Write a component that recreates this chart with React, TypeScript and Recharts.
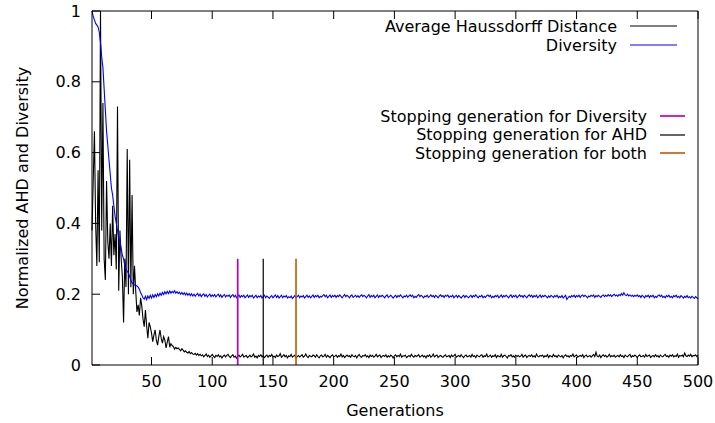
import { Line, LineChart, ReferenceLine, XAxis, YAxis } from "recharts";

const W = 715;
const H = 423;
const FONT = "'DejaVu Sans', sans-serif";
const FS = 16;
const BLUE = "#0000ff";

// Average Haussdorff Distance, generations 1..500 (normalized)
const ahd = [
  0.38, 0.52, 0.66, 0.40, 0.28, 0.55, 0.29, 1.0, 0.38, 0.74,
  0.30, 0.24, 0.52, 0.35, 0.30, 0.40, 0.28, 0.45, 0.31, 0.37,
  0.27, 0.73, 0.21, 0.38, 0.30, 0.25, 0.12, 0.30, 0.22, 0.61,
  0.20, 0.58, 0.22, 0.48, 0.20, 0.28, 0.21, 0.15, 0.17, 0.14,
  0.19, 0.167, 0.13, 0.108, 0.155, 0.11, 0.076, 0.12, 0.108, 0.09,
  0.066, 0.085, 0.099, 0.07, 0.056, 0.08, 0.099, 0.075, 0.062, 0.08,
  0.07, 0.048, 0.065, 0.08, 0.05, 0.06, 0.055, 0.052, 0.045, 0.05,
  0.046, 0.048, 0.044, 0.04, 0.046, 0.042, 0.037, 0.04, 0.036, 0.034,
  0.038, 0.032, 0.035, 0.031, 0.03, 0.033, 0.028, 0.032, 0.027, 0.03,
  0.026, 0.029, 0.023, 0.027, 0.031, 0.024, 0.028, 0.022, 0.026, 0.030, 0.025, 0.021, 0.027, 0.024, 0.029, 0.023, 0.026, 0.020, 0.025, 0.028,
  0.023, 0.027, 0.030, 0.024, 0.021, 0.026, 0.029, 0.022, 0.025, 0.019, 0.024, 0.028, 0.023, 0.026, 0.030, 0.022, 0.025, 0.027, 0.021, 0.024,
  0.028, 0.023, 0.026, 0.031, 0.022, 0.025, 0.020, 0.027, 0.024, 0.029, 0.023, 0.026, 0.021, 0.025, 0.028, 0.022, 0.027, 0.024, 0.030, 0.023,
  0.025, 0.021, 0.028, 0.024, 0.026, 0.032, 0.022, 0.025, 0.029, 0.023, 0.027, 0.020, 0.026, 0.024, 0.030, 0.022, 0.025, 0.028, 0.019, 0.024,
  0.027, 0.023, 0.026, 0.029, 0.022, 0.025, 0.031, 0.024, 0.021, 0.027, 0.025, 0.023, 0.028, 0.026, 0.022, 0.029, 0.024, 0.020, 0.026, 0.028,
  0.023, 0.025, 0.030, 0.022, 0.027, 0.024, 0.021, 0.026, 0.029, 0.023, 0.025, 0.028, 0.022, 0.026, 0.024, 0.031, 0.023, 0.027, 0.021, 0.025,
  0.028, 0.024, 0.026, 0.022, 0.029, 0.025, 0.023, 0.027, 0.020, 0.026, 0.030, 0.024, 0.022, 0.027, 0.025, 0.029, 0.023, 0.026, 0.021, 0.028,
  0.024, 0.027, 0.022, 0.025, 0.030, 0.023, 0.026, 0.028, 0.021, 0.025, 0.027, 0.024, 0.029, 0.022, 0.026, 0.023, 0.028, 0.025, 0.020, 0.026,
  0.029, 0.023, 0.027, 0.024, 0.031, 0.022, 0.026, 0.025, 0.028, 0.021, 0.024, 0.027, 0.023, 0.030, 0.025, 0.022, 0.027, 0.024, 0.026, 0.029,
  0.022, 0.025, 0.028, 0.023, 0.026, 0.020, 0.027, 0.024, 0.029, 0.022, 0.025, 0.031, 0.023, 0.026, 0.028, 0.021, 0.025, 0.027, 0.024, 0.022,
  0.026, 0.029, 0.023, 0.025, 0.027, 0.021, 0.028, 0.024, 0.026, 0.030, 0.022, 0.025, 0.027, 0.023, 0.029, 0.024, 0.021, 0.026, 0.028, 0.023,
  0.025, 0.027, 0.022, 0.030, 0.024, 0.026, 0.021, 0.028, 0.025, 0.023, 0.027, 0.029, 0.022, 0.026, 0.024, 0.031, 0.023, 0.025, 0.028, 0.022,
  0.026, 0.024, 0.029, 0.021, 0.027, 0.025, 0.023, 0.030, 0.022, 0.026, 0.028, 0.024, 0.020, 0.027, 0.025, 0.029, 0.023, 0.026, 0.022, 0.028,
  0.024, 0.027, 0.023, 0.025, 0.030, 0.022, 0.026, 0.028, 0.021, 0.025, 0.027, 0.024, 0.029, 0.023, 0.026, 0.022, 0.031, 0.025, 0.023, 0.027,
  0.025, 0.028, 0.022, 0.026, 0.024, 0.029, 0.021, 0.027, 0.025, 0.023, 0.030, 0.024, 0.026, 0.022, 0.028, 0.025, 0.023, 0.027, 0.020, 0.026,
  0.029, 0.024, 0.026, 0.022, 0.027, 0.025, 0.031, 0.023, 0.026, 0.028, 0.022, 0.025, 0.027, 0.024, 0.029, 0.021, 0.026, 0.028, 0.023, 0.025,
  0.027, 0.022, 0.026, 0.030, 0.024, 0.036, 0.025, 0.023, 0.028, 0.021, 0.026, 0.029, 0.024, 0.027, 0.022, 0.025, 0.030, 0.023, 0.026, 0.024,
  0.028, 0.022, 0.025, 0.027, 0.023, 0.029, 0.024, 0.026, 0.021, 0.028, 0.025, 0.023, 0.027, 0.030, 0.022, 0.026, 0.024, 0.028, 0.025, 0.021,
  0.026, 0.029, 0.023, 0.025, 0.027, 0.022, 0.030, 0.024, 0.026, 0.028, 0.021, 0.025, 0.027, 0.023, 0.029, 0.024, 0.026, 0.022, 0.028, 0.025,
  0.023, 0.027, 0.030, 0.024, 0.026, 0.022, 0.028, 0.025, 0.029, 0.023, 0.026, 0.024, 0.031, 0.022, 0.027, 0.025, 0.028, 0.023, 0.034, 0.026,
  0.024, 0.028, 0.025, 0.030, 0.023, 0.027, 0.026, 0.029, 0.024, 0.028,
];

// Diversity, generations 1..500 (normalized)
const diversity = [
  1.0, 0.985, 0.975, 0.965, 0.96, 0.955, 0.94, 0.91, 0.87, 0.84,
  0.78, 0.72, 0.66, 0.62, 0.58, 0.54, 0.50, 0.48, 0.45, 0.42,
  0.40, 0.38, 0.36, 0.35, 0.33, 0.31, 0.30, 0.28, 0.27, 0.265,
  0.26, 0.25, 0.24, 0.232, 0.228, 0.226, 0.225, 0.223, 0.22, 0.214,
  0.205, 0.198, 0.19, 0.186, 0.194, 0.185, 0.195, 0.188, 0.197, 0.189,
  0.198, 0.191, 0.199, 0.193, 0.201, 0.195, 0.203, 0.197, 0.205, 0.199,
  0.207, 0.201, 0.208, 0.202, 0.209, 0.203, 0.208, 0.204, 0.21, 0.203,
  0.207, 0.202, 0.206, 0.2, 0.205, 0.199, 0.204, 0.198, 0.203, 0.197,
  0.202, 0.196, 0.201, 0.195, 0.200, 0.194, 0.199, 0.202, 0.195, 0.200, 0.193, 0.198, 0.201, 0.194, 0.199, 0.192, 0.197, 0.200, 0.193, 0.198,
  0.194, 0.199, 0.192, 0.197, 0.200, 0.193, 0.198, 0.191, 0.196, 0.199, 0.192, 0.197, 0.194, 0.198, 0.191, 0.196, 0.199, 0.192, 0.197, 0.190,
  0.194, 0.198, 0.191, 0.196, 0.193, 0.197, 0.190, 0.194, 0.198, 0.191, 0.196, 0.193, 0.197, 0.189, 0.193, 0.197, 0.190, 0.195, 0.192, 0.196,
  0.189, 0.193, 0.197, 0.190, 0.195, 0.192, 0.188, 0.193, 0.196, 0.190, 0.194, 0.198, 0.191, 0.196, 0.189, 0.193, 0.197, 0.190, 0.195, 0.192,
  0.196, 0.189, 0.193, 0.190, 0.195, 0.188, 0.192, 0.196, 0.189, 0.193, 0.197, 0.190, 0.195, 0.192, 0.196, 0.189, 0.193, 0.197, 0.191, 0.195,
  0.190, 0.194, 0.198, 0.191, 0.196, 0.193, 0.197, 0.190, 0.194, 0.192, 0.196, 0.199, 0.193, 0.197, 0.190, 0.194, 0.198, 0.191, 0.196, 0.193,
  0.197, 0.191, 0.196, 0.193, 0.198, 0.194, 0.190, 0.195, 0.199, 0.193, 0.197, 0.194, 0.190, 0.195, 0.198, 0.191, 0.194, 0.197, 0.192, 0.196,
  0.191, 0.195, 0.198, 0.193, 0.197, 0.194, 0.190, 0.195, 0.199, 0.191, 0.196, 0.193, 0.197, 0.190, 0.194, 0.198, 0.191, 0.196, 0.193, 0.197,
  0.194, 0.190, 0.195, 0.198, 0.191, 0.194, 0.197, 0.193, 0.189, 0.194, 0.197, 0.191, 0.196, 0.193, 0.198, 0.194, 0.190, 0.195, 0.193, 0.197,
  0.191, 0.195, 0.198, 0.193, 0.197, 0.190, 0.194, 0.191, 0.196, 0.199, 0.193, 0.197, 0.194, 0.190, 0.195, 0.193, 0.197, 0.191, 0.194, 0.198,
  0.193, 0.196, 0.191, 0.197, 0.194, 0.190, 0.195, 0.198, 0.193, 0.196, 0.191, 0.197, 0.194, 0.198, 0.191, 0.195, 0.193, 0.197, 0.190, 0.194,
  0.197, 0.191, 0.196, 0.193, 0.189, 0.194, 0.197, 0.191, 0.196, 0.193, 0.190, 0.194, 0.197, 0.191, 0.196, 0.193, 0.198, 0.194, 0.190, 0.195,
  0.193, 0.197, 0.190, 0.194, 0.191, 0.196, 0.198, 0.193, 0.197, 0.190, 0.194, 0.191, 0.196, 0.193, 0.197, 0.190, 0.194, 0.198, 0.191, 0.196,
  0.193, 0.197, 0.194, 0.190, 0.195, 0.198, 0.191, 0.196, 0.193, 0.197, 0.190, 0.194, 0.198, 0.193, 0.196, 0.191, 0.197, 0.194, 0.190, 0.195,
  0.198, 0.193, 0.197, 0.191, 0.196, 0.193, 0.197, 0.190, 0.194, 0.198, 0.191, 0.196, 0.193, 0.197, 0.194, 0.190, 0.195, 0.191, 0.197, 0.194,
  0.191, 0.196, 0.193, 0.197, 0.190, 0.194, 0.191, 0.196, 0.189, 0.193, 0.197, 0.185, 0.190, 0.194, 0.191, 0.196, 0.193, 0.197, 0.191, 0.196,
  0.193, 0.197, 0.191, 0.196, 0.198, 0.193, 0.197, 0.194, 0.190, 0.195, 0.193, 0.197, 0.194, 0.198, 0.191, 0.196, 0.193, 0.197, 0.194, 0.191,
  0.196, 0.198, 0.193, 0.197, 0.194, 0.199, 0.195, 0.198, 0.193, 0.197, 0.200, 0.195, 0.198, 0.194, 0.199, 0.196, 0.202, 0.197, 0.204, 0.198,
  0.196, 0.200, 0.195, 0.198, 0.194, 0.197, 0.193, 0.197, 0.194, 0.198, 0.193, 0.196, 0.191, 0.197, 0.194, 0.190, 0.196, 0.193, 0.197, 0.191,
  0.196, 0.193, 0.197, 0.190, 0.194, 0.191, 0.196, 0.198, 0.193, 0.197, 0.191, 0.194, 0.190, 0.196, 0.193, 0.197, 0.191, 0.194, 0.190, 0.196,
  0.193, 0.197, 0.191, 0.194, 0.190, 0.196, 0.193, 0.189, 0.194, 0.191, 0.196, 0.190, 0.193, 0.189, 0.194, 0.191, 0.188, 0.193, 0.190, 0.187,
];

const xTicks = [50, 100, 150, 200, 250, 300, 350, 400, 450, 500];
const yTicks = [0, 0.2, 0.4, 0.6, 0.8, 1];

const stops = [
  { label: "Stopping generation for Diversity", gen: 121, color: "#c000c0", width: 1.7 },
  { label: "Stopping generation for AHD", gen: 142, color: "#000000", width: 1.2 },
  { label: "Stopping generation for both", gen: 169, color: "#c0640a", width: 1.7 },
];
const stopHeight = 0.3;

const seriesKeys = [
  { label: "Average Haussdorff Distance", color: "#000000" },
  { label: "Diversity", color: BLUE },
];

const rows = ahd.map((v, i) => ({ g: i + 1, ahd: v, div: diversity[i] }));

const TICK = 8;

const BottomTick = (p: any) => (
  <g>
    <line x1={p.x} y1={p.y} x2={p.x} y2={p.y - TICK} stroke="#000" />
    <text x={p.x} y={p.y + 16} dy="0.35em" textAnchor="middle" fill="#000" fontSize={FS} fontFamily={FONT}>
      {p.payload.value}
    </text>
  </g>
);
const TopTick = (p: any) => <line x1={p.x} y1={p.y} x2={p.x} y2={p.y + TICK} stroke="#000" />;
const LeftTick = (p: any) => (
  <g>
    <line x1={p.x} y1={p.y} x2={p.x + TICK} y2={p.y} stroke="#000" />
    <text x={p.x - 11} y={p.y} dy="0.35em" textAnchor="end" fill="#000" fontSize={FS} fontFamily={FONT}>
      {String(p.payload.value)}
    </text>
  </g>
);
const RightTick = (p: any) => <line x1={p.x} y1={p.y} x2={p.x - TICK} y2={p.y} stroke="#000" />;

const KeyRow = ({ label, color, top, right, len, sw }: any) => (
  <div
    style={{
      position: "absolute",
      top: top - 10,
      right,
      height: 20,
      display: "flex",
      alignItems: "center",
      whiteSpace: "nowrap",
      fontSize: FS,
      fontFamily: FONT,
      color: "#000",
    }}
  >
    <span>{label}</span>
    <svg width={len} height={4} style={{ marginLeft: 13, display: "block" }}>
      <line x1={0} y1={2} x2={len} y2={2} stroke={color} strokeWidth={sw} />
    </svg>
  </div>
);

export default function App() {
  return (
    <div style={{ position: "absolute", left: 0, top: 0, width: W, height: H, background: "#fff" }}>
      <LineChart width={W} height={H} data={rows} margin={{ top: 0, right: 0, bottom: 0, left: 0 }}>
        <XAxis
          xAxisId="b"
          dataKey="g"
          type="number"
          domain={[1, 500]}
          ticks={xTicks}
          height={58}
          tickSize={0}
          tickMargin={0}
          tickLine={false}
          axisLine={{ stroke: "#000" }}
          tick={BottomTick}
          interval={0}
          label={{
            content: (p: any) => (
              <text
                x={p.viewBox.x + p.viewBox.width / 2}
                y={p.viewBox.y + 45}
                dy="0.35em"
                textAnchor="middle"
                fill="#000"
                fontSize={FS}
                fontFamily={FONT}
              >
                Generations
              </text>
            ),
          }}
        />
        <XAxis
          xAxisId="t"
          orientation="top"
          dataKey="g"
          type="number"
          domain={[1, 500]}
          ticks={xTicks}
          height={11}
          tickSize={0}
          tickMargin={0}
          tickLine={false}
          axisLine={{ stroke: "#000" }}
          tick={TopTick}
          interval={0}
        />
        <YAxis
          yAxisId="l"
          type="number"
          domain={[0, 1]}
          ticks={yTicks}
          width={92}
          tickSize={0}
          tickMargin={0}
          tickLine={false}
          axisLine={{ stroke: "#000" }}
          tick={LeftTick}
          interval={0}
          label={{
            content: (p: any) => {
              const cx = p.viewBox.x + 22;
              const cy = p.viewBox.y + p.viewBox.height / 2;
              return (
                <text
                  x={cx}
                  y={cy}
                  dy="0.35em"
                  textAnchor="middle"
                  transform={`rotate(-90 ${cx} ${cy})`}
                  fill="#000"
                  fontSize={FS}
                  fontFamily={FONT}
                >
                  Normalized AHD and Diversity
                </text>
              );
            },
          }}
        />
        <YAxis
          yAxisId="r"
          orientation="right"
          type="number"
          domain={[0, 1]}
          ticks={yTicks}
          width={17}
          tickSize={0}
          tickMargin={0}
          tickLine={false}
          axisLine={{ stroke: "#000" }}
          tick={RightTick}
          interval={0}
        />
        <Line
          xAxisId="b"
          yAxisId="l"
          dataKey="ahd"
          stroke="#000"
          strokeWidth={1.1}
          dot={false}
          type="linear"
          isAnimationActive={false}
        />
        <Line
          xAxisId="b"
          yAxisId="l"
          dataKey="div"
          stroke={BLUE}
          strokeWidth={1.1}
          dot={false}
          type="linear"
          isAnimationActive={false}
        />
        {stops.map((s) => (
          <ReferenceLine
            key={s.label}
            xAxisId="b"
            yAxisId="l"
            segment={[
              { x: s.gen, y: 0 },
              { x: s.gen, y: stopHeight },
            ]}
            stroke={s.color}
            strokeWidth={s.width}
          />
        ))}
      </LineChart>
      {seriesKeys.map((k, i) => (
        <KeyRow key={k.label} label={k.label} color={k.color} top={26 + i * 19} right={W - 677} len={47} sw={1} />
      ))}
      {stops.map((s, i) => (
        <KeyRow key={s.label} label={s.label} color={s.color} top={116 + i * 18.5} right={W - 685} len={25} sw={s.width} />
      ))}
    </div>
  );
}
